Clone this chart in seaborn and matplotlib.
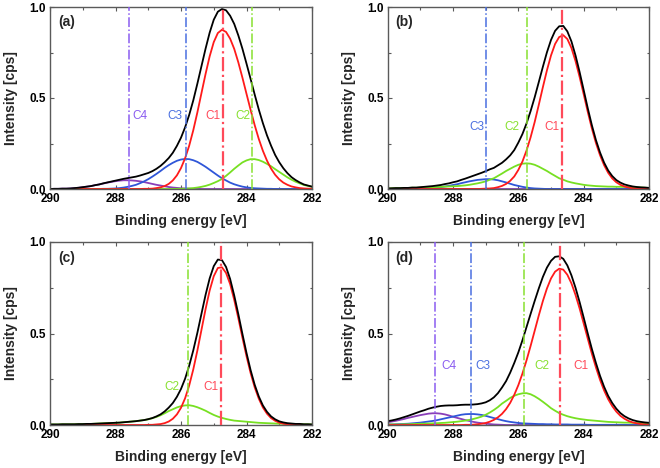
import numpy as np
import pandas as pd
import matplotlib
matplotlib.use("Agg")
import matplotlib.pyplot as plt
import seaborn as sns
from matplotlib.ticker import MultipleLocator, FormatStrFormatter

# ---------------- data ----------------
energy = [290.0, 289.875, 289.75, 289.625, 289.5, 289.375, 289.25, 289.125,
          289.0, 288.875, 288.75, 288.625, 288.5, 288.375, 288.25, 288.125,
          288.0, 287.875, 287.75, 287.625, 287.5, 287.375, 287.25, 287.125,
          287.0, 286.875, 286.75, 286.625, 286.5, 286.375, 286.25, 286.125,
          286.0, 285.875, 285.75, 285.625, 285.5, 285.375, 285.25, 285.125,
          285.0, 284.875, 284.75, 284.625, 284.5, 284.375, 284.25, 284.125,
          284.0, 283.875, 283.75, 283.625, 283.5, 283.375, 283.25, 283.125,
          283.0, 282.875, 282.75, 282.625, 282.5, 282.375, 282.25, 282.125,
          282.0]

# panel (a)
a_c1 = [0, 0, 0, 0, 0, 0, 0, 0, 0, 0, 0, 0, 0, 0, 0, 0, 0, 0, 0, 0, 0, 0, 0,
        0.001, 0.001, 0.002, 0.005, 0.009, 0.016, 0.028, 0.047, 0.075, 0.115,
        0.169, 0.238, 0.323, 0.421, 0.527, 0.632, 0.729, 0.807, 0.857, 0.875,
        0.863, 0.826, 0.770, 0.696, 0.612, 0.523, 0.435, 0.351, 0.275, 0.210,
        0.156, 0.112, 0.078, 0.053, 0.035, 0.023, 0.014, 0.009, 0.005, 0.003,
        0.002, 0.001]
a_c2 = [0, 0, 0, 0, 0, 0, 0, 0, 0, 0, 0, 0, 0, 0, 0, 0, 0, 0, 0, 0, 0, 0, 0,
        0, 0, 0, 0, 0, 0, 0,
        0.000, 0.001, 0.001, 0.002, 0.003, 0.005, 0.008, 0.012, 0.017, 0.024,
        0.033, 0.043, 0.055, 0.072, 0.091, 0.111, 0.129, 0.146, 0.157, 0.164,
        0.164, 0.159, 0.150, 0.138, 0.125, 0.109, 0.094, 0.079, 0.064, 0.051,
        0.040, 0.031, 0.022, 0.017, 0.012]
a_c3 = [0, 0, 0, 0, 0, 0, 0, 0, 0, 0, 0, 0, 0,
        0.001, 0.001, 0.002, 0.003, 0.005, 0.008, 0.012, 0.017, 0.023, 0.032,
        0.042, 0.054, 0.068, 0.083, 0.099, 0.116, 0.131, 0.144, 0.155, 0.162,
        0.165, 0.164, 0.158, 0.149, 0.136, 0.122, 0.106, 0.090, 0.074, 0.059,
        0.047, 0.035, 0.026, 0.019, 0.013, 0.009, 0.006, 0.004, 0.003, 0.002,
        0.001, 0.001,
        0, 0, 0, 0, 0, 0, 0, 0, 0, 0]
a_c4 = [0.000, 0.001, 0.001, 0.002, 0.002, 0.003, 0.005, 0.007, 0.010, 0.013,
        0.016, 0.021, 0.025, 0.030, 0.035, 0.039, 0.043, 0.046, 0.048, 0.048,
        0.047, 0.045, 0.042, 0.038, 0.033, 0.028, 0.023, 0.019, 0.015, 0.011,
        0.008, 0.006, 0.004, 0.003, 0.002, 0.001, 0.001,
        0, 0, 0, 0, 0, 0, 0, 0, 0, 0, 0, 0, 0, 0, 0, 0, 0, 0, 0, 0, 0, 0, 0, 0,
        0, 0, 0, 0]
a_pos = {"C1": 284.73, "C2": 283.84, "C3": 285.85, "C4": 287.60}

# panel (b)
b_c1 = [0, 0, 0, 0, 0, 0, 0, 0, 0, 0, 0, 0, 0, 0, 0, 0, 0, 0, 0, 0, 0, 0, 0,
        0.001, 0.002, 0.003, 0.005, 0.010, 0.017, 0.028, 0.045, 0.069, 0.105,
        0.151, 0.211, 0.284, 0.368, 0.462, 0.559, 0.652, 0.734, 0.797, 0.835,
        0.845, 0.824, 0.775, 0.703, 0.616, 0.521, 0.424, 0.333, 0.253, 0.186,
        0.131, 0.089, 0.058, 0.037, 0.023, 0.014, 0.008, 0.004, 0.002, 0.001,
        0.001, 0.000]
b_c2 = [0.003, 0.004, 0.005, 0.005, 0.006, 0.006, 0.007, 0.007, 0.008, 0.009,
        0.010, 0.010, 0.011, 0.012, 0.013, 0.014, 0.015, 0.016, 0.018, 0.020,
        0.023, 0.027, 0.031, 0.036, 0.042, 0.051, 0.059, 0.072, 0.085, 0.099,
        0.111, 0.123, 0.133, 0.139, 0.141, 0.139, 0.133, 0.123, 0.111, 0.099,
        0.085, 0.072, 0.059, 0.051, 0.042, 0.036, 0.031, 0.027, 0.023, 0.020,
        0.018, 0.016, 0.015, 0.014, 0.013, 0.013, 0.012, 0.012, 0.011, 0.011,
        0.010, 0.009, 0.008, 0.007, 0.006]
b_c3 = [0, 0, 0, 0, 0, 0,
        0.001, 0.001, 0.002, 0.003, 0.004, 0.006, 0.008, 0.010, 0.014, 0.017,
        0.022, 0.026, 0.032, 0.037, 0.042, 0.046, 0.050, 0.052, 0.054, 0.054,
        0.052, 0.048, 0.042, 0.036, 0.029, 0.022, 0.017, 0.012, 0.008, 0.005,
        0.003, 0.002, 0.001,
        0, 0, 0, 0, 0, 0, 0, 0, 0, 0, 0, 0, 0, 0, 0, 0, 0, 0, 0, 0, 0, 0, 0, 0,
        0, 0]
b_c4 = [0, 0, 0, 0, 0, 0, 0, 0, 0, 0, 0, 0, 0, 0, 0, 0, 0, 0, 0, 0, 0, 0, 0,
        0, 0, 0, 0, 0, 0, 0, 0, 0, 0, 0, 0, 0, 0, 0, 0, 0, 0, 0, 0, 0, 0, 0, 0,
        0, 0, 0, 0, 0, 0, 0, 0, 0, 0, 0, 0, 0, 0, 0, 0, 0, 0]
b_pos = {"C1": 284.67, "C2": 285.74, "C3": 286.99}

# panel (c)
c_c1 = [0, 0, 0, 0, 0, 0, 0, 0, 0, 0, 0, 0, 0, 0, 0, 0, 0, 0, 0, 0, 0, 0, 0,
        0,
        0.001, 0.001, 0.003, 0.005, 0.010, 0.019, 0.034, 0.058, 0.094, 0.146,
        0.216, 0.304, 0.407, 0.520, 0.633, 0.735, 0.813, 0.858, 0.862, 0.831,
        0.770, 0.684, 0.584, 0.478, 0.376, 0.284, 0.206, 0.144, 0.096, 0.062,
        0.038, 0.023, 0.013, 0.007, 0.004, 0.002, 0.001, 0.001,
        0, 0, 0]
c_c2 = [0.003, 0.003, 0.003, 0.004, 0.004, 0.004, 0.004, 0.005, 0.005, 0.006,
        0.006, 0.007, 0.008, 0.009, 0.010, 0.011, 0.012, 0.013, 0.015, 0.017,
        0.019, 0.021, 0.024, 0.027, 0.031, 0.037, 0.044, 0.053, 0.064, 0.076,
        0.086, 0.096, 0.103, 0.107, 0.108, 0.104, 0.097, 0.088, 0.078, 0.066,
        0.055, 0.046, 0.039, 0.033, 0.028, 0.024, 0.022, 0.020, 0.018, 0.016,
        0.014, 0.012, 0.011, 0.010, 0.009, 0.008, 0.007, 0.007, 0.006, 0.006,
        0.005, 0.005, 0.004, 0.004, 0.003]
c_pos = {"C1": 284.79, "C2": 285.78}

# panel (d)
d_c1 = [0, 0, 0, 0, 0, 0, 0, 0, 0, 0, 0, 0, 0, 0, 0, 0, 0, 0, 0,
        0.001, 0.001, 0.002, 0.004, 0.007, 0.011, 0.018, 0.028, 0.042, 0.061,
        0.087, 0.121, 0.165, 0.218, 0.281, 0.353, 0.432, 0.515, 0.598, 0.677,
        0.746, 0.801, 0.838, 0.854, 0.849, 0.821, 0.774, 0.711, 0.637, 0.555,
        0.472, 0.390, 0.315, 0.247, 0.189, 0.141, 0.103, 0.073, 0.050, 0.034,
        0.022, 0.014, 0.009, 0.005, 0.003, 0.002]
d_c2 = [0.003, 0.003, 0.003, 0.003, 0.004, 0.004, 0.005, 0.006, 0.007, 0.007,
        0.008, 0.009, 0.010, 0.011, 0.012, 0.014, 0.016, 0.018, 0.021, 0.024,
        0.028, 0.033, 0.039, 0.046, 0.056, 0.068, 0.082, 0.098, 0.117, 0.132,
        0.148, 0.160, 0.168, 0.173, 0.174, 0.168, 0.157, 0.143, 0.127, 0.110,
        0.092, 0.078, 0.065, 0.056, 0.048, 0.042, 0.037, 0.033, 0.030, 0.027,
        0.025, 0.023, 0.021, 0.019, 0.017, 0.016, 0.015, 0.014, 0.013, 0.013,
        0.012, 0.011, 0.011, 0.010, 0.009]
d_c3 = [0.003, 0.003, 0.004, 0.005, 0.006, 0.007, 0.009, 0.011, 0.013, 0.016,
        0.019, 0.022, 0.026, 0.031, 0.036, 0.041, 0.046, 0.051, 0.056, 0.059,
        0.060, 0.060, 0.058, 0.055, 0.050, 0.044, 0.038, 0.032, 0.026, 0.021,
        0.017, 0.014, 0.011, 0.009, 0.008, 0.007, 0.006, 0.005, 0.005, 0.004,
        0.004, 0.003, 0.003, 0.003, 0.003, 0.002, 0.002, 0.002, 0.002, 0.001,
        0.001, 0.001, 0.001, 0.001, 0.001, 0.001, 0.001, 0.001, 0.001, 0.001,
        0.001, 0.001, 0.001, 0.001, 0.001]
d_c4 = [0.015, 0.019, 0.023, 0.028, 0.033, 0.039, 0.044, 0.049, 0.054, 0.058,
        0.062, 0.064, 0.064, 0.062, 0.058, 0.052, 0.045, 0.039, 0.033, 0.027,
        0.022, 0.017, 0.013, 0.010, 0.007, 0.005, 0.003, 0.002, 0.001,
        0, 0, 0, 0, 0, 0, 0, 0, 0, 0, 0, 0, 0, 0, 0, 0, 0, 0, 0, 0, 0, 0, 0, 0,
        0, 0, 0, 0, 0, 0, 0, 0, 0, 0, 0, 0]
d_pos = {"C1": 284.73, "C2": 285.82, "C3": 287.45, "C4": 288.55}

x_ticks = [290, 288, 286, 284, 282]
y_ticks = [0.0, 0.5, 1.0]

# ---------------- style ----------------
sns.set_theme(style="ticks")
plt.rcParams['font.family'] = ['Liberation Sans', 'DejaVu Sans']

curve_colors = {"C1": "#ff1a1a", "C2": "#77e022", "C3": "#2f56d8",
                "C4": "#8a3fb8", "Sum": "#000000"}
mark_colors = {"C1": "#ff4a5a", "C2": "#88e030", "C3": "#4a6fe0",
               "C4": "#8a5cf0"}
spine_col = "#5a5a5a"

fig = plt.figure(figsize=(6.6, 4.68), dpi=100)
W, H = 660, 468
boxes = [(50, 7, 312, 189), (387.7, 7, 649, 189),
         (50, 242, 312, 425), (387.7, 242, 649, 425)]

panels = [
    ("(a)", {"C1": a_c1, "C2": a_c2, "C3": a_c3, "C4": a_c4}, a_pos,
     {"C4": (287.25, 0.40), "C3": (286.18, 0.40), "C1": (285.01, 0.40),
      "C2": (284.10, 0.40)}),
    ("(b)", {"C1": b_c1, "C2": b_c2, "C3": b_c3, "C4": b_c4}, b_pos,
     {"C3": (287.28, 0.34), "C2": (286.20, 0.34), "C1": (284.96, 0.34)}),
    ("(c)", {"C1": c_c1, "C2": c_c2}, c_pos,
     {"C2": (286.27, 0.21), "C1": (285.10, 0.21)}),
    ("(d)", {"C1": d_c1, "C2": d_c2, "C3": d_c3, "C4": d_c4}, d_pos,
     {"C4": (288.12, 0.32), "C3": (287.10, 0.32), "C2": (285.27, 0.32),
      "C1": (284.09, 0.32)}),
]

for (x0, y0, x1, y1), (tag, comps, pos, labpos) in zip(boxes, panels):
    ax = fig.add_axes([x0 / W, 1 - y1 / H, (x1 - x0) / W, (y1 - y0) / H])
    frames = []
    total = np.zeros(len(energy))
    for name, vals in comps.items():
        frames.append(pd.DataFrame({"energy": energy, "intensity": vals,
                                    "component": name}))
        total = total + np.asarray(vals, dtype=float)
    frames.append(pd.DataFrame({"energy": energy, "intensity": total,
                                "component": "Sum"}))
    df = pd.concat(frames, ignore_index=True)
    order = [c for c in ["C4", "C3", "C2", "C1"] if c in comps] + ["Sum"]
    sns.lineplot(data=df, x="energy", y="intensity", hue="component",
                 hue_order=order, palette=curve_colors, estimator=None,
                 errorbar=None, legend=False, linewidth=1.3, ax=ax)
    for name, xv in pos.items():
        ax.axvline(xv, color=mark_colors[name], linestyle="-.",
                   linewidth=1.6 if name == "C1" else 1.1, zorder=3)
    for name, (tx, ty) in labpos.items():
        ax.text(tx, ty, name, color=mark_colors[name], fontsize=8.5,
                ha="center", va="center")
    ax.text(0.03, 0.915, tag, transform=ax.transAxes, fontsize=10,
            fontweight="bold", va="center")

    ax.set_xlim(290, 282)
    ax.set_ylim(0, 1.0)
    ax.set_xticks(x_ticks)
    ax.set_yticks(y_ticks)
    ax.xaxis.set_minor_locator(MultipleLocator(1))
    ax.yaxis.set_minor_locator(MultipleLocator(0.25))
    ax.xaxis.set_major_formatter(FormatStrFormatter('%d'))
    ax.yaxis.set_major_formatter(FormatStrFormatter('%.1f'))
    ax.tick_params(which="both", direction="in", top=True, right=True,
                   bottom=True, left=True, color=spine_col, width=0.8)
    ax.tick_params(which="major", length=3, labelsize=8.5, pad=3,
                   labelcolor="black")
    ax.tick_params(which="minor", length=1.8)
    for lab in ax.get_xticklabels() + ax.get_yticklabels():
        lab.set_fontweight("bold")
    for sp in ax.spines.values():
        sp.set_color(spine_col)
        sp.set_linewidth(1.0)
    ax.set_xlabel("Binding energy [eV]", fontsize=10, fontweight="bold",
                  labelpad=6)
    ax.set_ylabel("Intensity [cps]", fontsize=10, fontweight="bold",
                  labelpad=8)

fig.savefig("out.png", dpi=100)
